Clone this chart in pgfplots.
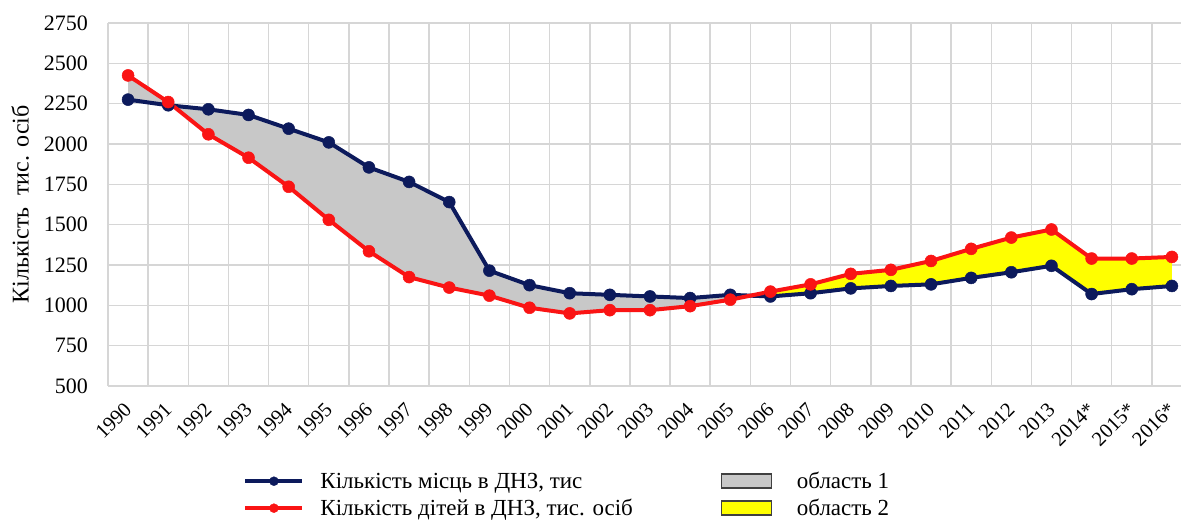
\documentclass[border=0pt]{standalone}
\usepackage{pgfplots}
\pgfplotsset{compat=1.18}
\usepgfplotslibrary{fillbetween}
\usepackage{fontspec}
\setmainfont{Liberation Serif}

\definecolor{navy}{RGB}{12,26,92}
\definecolor{redline}{RGB}{250,20,20}
\definecolor{area1}{RGB}{200,200,200}
\definecolor{area2}{RGB}{255,255,0}
\definecolor{gridc}{RGB}{214,214,214}

\pgfplotsset{
  legline/.style={legend image code/.code={
      \draw[line width=4pt,##1] (0pt,0pt) -- (57pt,0pt);
      \fill[##1] (28.5pt,0pt) circle (4.5pt);}},
  legarea/.style={legend image code/.code={
      \draw[##1, draw=black!75, line width=1.5pt] (0pt,-7pt) rectangle (50pt,7pt);
      \path (59pt,0pt);}},
}

% x = index of the year (0 = 1990)
\pgfplotstableread{
x places children
0  2275 2425
1  2240 2260
2  2215 2060
3  2180 1915
4  2095 1735
5  2010 1530
6  1855 1335
7  1765 1175
8  1640 1110
9  1215 1060
10 1125 985
11 1075 950
12 1065 970
13 1055 970
14 1045 995
15 1065 1035
16 1055 1085
17 1075 1130
18 1105 1195
19 1120 1220
20 1130 1275
21 1170 1350
22 1205 1420
23 1245 1470
24 1070 1290
25 1100 1290
26 1120 1300
}\data

\begin{document}
\begin{tikzpicture}
\begin{axis}[
  at={(108pt,135pt)}, anchor=south west,
  scale only axis, width=1084pt, height=363pt,
  xmin=-0.5, xmax=26.5, ymin=500, ymax=2750,
  ytick={500,750,...,2750},
  xtick={0,...,26},
  xticklabels={1990,1991,1992,1993,1994,1995,1996,1997,1998,1999,2000,2001,2002,2003,2004,2005,2006,2007,2008,2009,2010,2011,2012,2013,2014*,2015*,2016*},
  minor xtick={-0.5,0.5,...,26.5},
  xminorgrids=true, ymajorgrids=true,
  major grid style={gridc, line width=1.5pt},
  minor grid style={gridc, line width=1.5pt},
  axis line style={draw=none},
  major tick length=0pt, minor tick length=0pt,
  /pgf/number format/assume math mode=true,
  /pgf/number format/1000 sep={},
  yticklabel style={inner sep=0pt, xshift=-20pt, font=\fontsize{22}{26}\selectfont},
  xticklabel style={rotate=45, anchor=east, inner sep=0pt, font=\fontsize{20.5}{24}\selectfont},
  xticklabel shift=20pt,
  ylabel={Кількість\ \ тис. осіб},
  ylabel style={at={(axis description cs:-0.081,0.5)}, anchor=center, font=\fontsize{24}{28}\selectfont},
  legend columns=2, legend cell align=left,
  legend style={at={(axis description cs:0.122,-0.226)}, anchor=north west,
    draw=none, fill=none, font=\fontsize{23}{27}\selectfont, row sep=5pt,
    /tikz/every odd column/.append style={column sep=14pt},
    /tikz/every even column/.append style={column sep=86pt}},
]
\addplot[name path=blue, navy, line width=4pt, mark=*, mark size=6pt,
  mark options={line width=0.5pt, fill=navy}, forget plot]
  table[x=x, y=places]{\data};
\addplot[name path=red, redline, line width=4pt, mark=*, mark size=6pt,
  mark options={line width=0.5pt, fill=redline}, forget plot]
  table[x=x, y=children]{\data};
\addplot[area1, forget plot] fill between[of=blue and red, soft clip={domain=-0.5:15.5}];
\addplot[area2, forget plot] fill between[of=blue and red, soft clip={domain=15.5:26.5}];

\addlegendimage{legline, navy}
\addlegendentry{Кількість місць в ДНЗ, тис}
\addlegendimage{legarea, fill=area1}
\addlegendentry{область 1}
\addlegendimage{legline, redline}
\addlegendentry{Кількість дітей в ДНЗ, тис. осіб}
\addlegendimage{legarea, fill=area2}
\addlegendentry{область 2}
\end{axis}
\pgfresetboundingbox
\useasboundingbox (0,0) rectangle (1181pt,521pt);
\end{tikzpicture}
\end{document}
